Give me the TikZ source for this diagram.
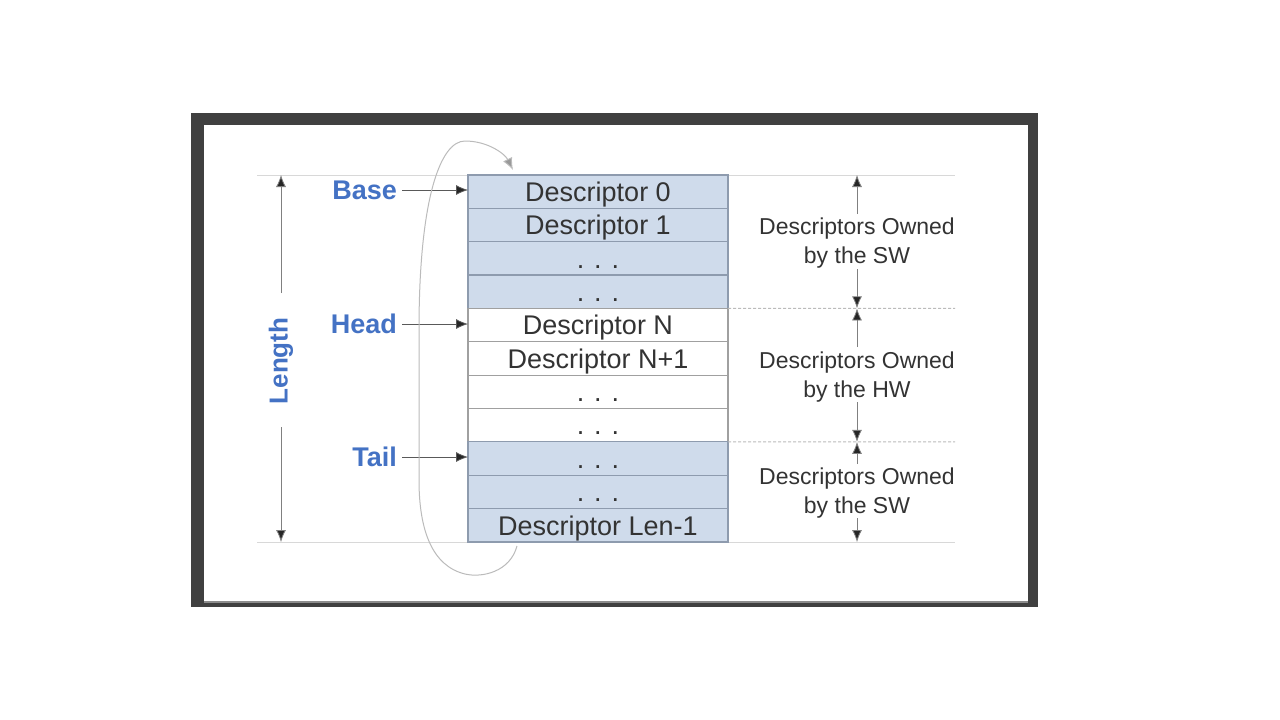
\documentclass[tikz,border=0pt]{standalone}
\usepackage{fontspec}
\setmainfont{Liberation Sans}
\usetikzlibrary{arrows.meta}
\definecolor{framecol}{HTML}{404040}
\definecolor{swfill}{HTML}{CFDBEB}
\definecolor{swdraw}{HTML}{8E9BAE}
\definecolor{hwdraw}{HTML}{A0A0A0}
\definecolor{labblue}{HTML}{4472C4}
\definecolor{txt}{HTML}{333333}
\definecolor{guidecol}{HTML}{D8D8D8}
\definecolor{curvecol}{HTML}{BBBBBB}
\tikzset{
  rowbox/.style={minimum width=260pt, minimum height=33.36pt, inner sep=0pt, outer sep=0pt,
    text height=19.5pt, text depth=0pt, text=txt, font=\fontsize{27}{32}\selectfont, line width=1.2pt},
  swrow/.style={rowbox, fill=swfill, draw=swdraw},
  hwrow/.style={rowbox, fill=white, draw=hwdraw},
  ptrlab/.style={text=labblue, font=\bfseries\fontsize{27}{32}\selectfont, inner sep=0pt, anchor=east},
  ptrarrow/.style={draw=black!65, line width=0.8pt, -{Latex[length=12pt,width=10pt,fill=black!85]}},
  ownlab/.style={text=txt, align=center, font=\fontsize{23}{29}\selectfont, inner sep=0pt},
  ownarrow/.style={draw=black!50, line width=0.8pt, -{Latex[length=12pt,width=10pt,fill=black!85]}},
  guide/.style={draw=guidecol, line width=1pt},
  dguide/.style={draw=curvecol, line width=1pt, dash pattern=on 3pt off 2pt},
  wrapcurve/.style={draw=curvecol, line width=1pt, -{Latex[length=12pt,width=10pt,fill=black!40]}}
}
\begin{document}
\begin{tikzpicture}[x=1pt,y=-1pt]
\useasboundingbox (0,0) rectangle (1280,720);
\fill[white] (0,0) rectangle (1280,720);
% frame
\fill[framecol] (191,113) rectangle (1038,607);
\fill[white] (204,125) rectangle (1028,603);
\draw[black!45, line width=1.5pt] (204,602) -- (1028,602);

% guide lines
\coordinate (gtl) at (257,175);
\coordinate (gtr) at (955,175);
\coordinate (gbl) at (257,542);
\coordinate (gbr) at (955,542);
\draw[guide] (gtl) -- (gtr);
\draw[guide] (gbl) -- (gbr);

% table rows
\node[swrow] (r0) at (598,191.68) {Descriptor 0};
\node[swrow] (r1) at (598,225.04) {Descriptor 1};
\node[swrow] (r2) at (598,258.40) {. . .};
\node[swrow] (r3) at (598,291.76) {. . .};
\node[hwrow] (r4) at (598,325.12) {Descriptor N};
\node[hwrow] (r5) at (598,358.48) {Descriptor N+1};
\node[hwrow] (r6) at (598,391.84) {. . .};
\node[hwrow] (r7) at (598,425.20) {. . .};
\node[swrow] (r8) at (598,458.56) {. . .};
\node[swrow] (r9) at (598,491.92) {. . .};
\node[swrow] (r10) at (598,525.28) {Descriptor Len-1};

% dashed separators
\coordinate (d1r) at (955,308.4);
\coordinate (d2r) at (955,441.9);
\draw[dguide] (r3.south east) -- (d1r);
\draw[dguide] (r7.south east) -- (d2r);

% pointer labels
\node[ptrlab] (base) at (397,190) {Base};
\node[ptrlab] (head) at (397,324) {Head};
\node[ptrlab] (tail) at (397,457) {Tail};
\draw[ptrarrow] ([xshift=5pt]base.east) -- (base.east -| r0.west);
\draw[ptrarrow] ([xshift=5pt]head.east) -- (head.east -| r4.west);
\draw[ptrarrow] ([xshift=5pt]tail.east) -- (tail.east -| r8.west);

% Length
\node[text=labblue, font=\bfseries\fontsize{26}{30}\selectfont, rotate=90, inner sep=0pt] (len) at (281,361) {Length};
\coordinate (lentop) at (281,175);
\coordinate (lenbot) at (281,542);
\coordinate (lena) at (281,293);
\coordinate (lenb) at (281,427);
\draw[ownarrow] (lena) -- (lentop);
\draw[ownarrow] (lenb) -- (lenbot);

% ownership labels
\node[ownlab] (own1) at (857,243) {Descriptors Owned\\by the SW};
\node[ownlab] (own2) at (857,377) {Descriptors Owned\\by the HW};
\node[ownlab] (own3) at (857,493) {Descriptors Owned\\by the SW};
\coordinate (o1s) at (857,214);
\coordinate (o1e) at (857,269);
\coordinate (o2s) at (857,347);
\coordinate (o2e) at (857,402);
\coordinate (o3s) at (857,464);
\coordinate (o3e) at (857,518);
\coordinate (o1t) at (857,175);
\coordinate (o1b) at (857,308.4);
\coordinate (o2t) at (857,308.4);
\coordinate (o2b) at (857,441.9);
\coordinate (o3t) at (857,441.9);
\coordinate (o3b) at (857,542);
\draw[ownarrow] (o1s) -- (o1t);
\draw[ownarrow] (o1e) -- (o1b);
\draw[ownarrow] (o2s) -- (o2t);
\draw[ownarrow] (o2e) -- (o2b);
\draw[ownarrow] (o3s) -- (o3t);
\draw[ownarrow] (o3e) -- (o3b);

% wrap-around curve
\coordinate (cstart) at (517,546);
\coordinate (cend) at (513,170);
\draw[wrapcurve] (cstart) .. controls (510,572) and (482,578) .. (465,574)
  .. controls (432,566) and (419,530) .. (419,480) -- (419,330)
  .. controls (419,200) and (440,141) .. (465,141)
  .. controls (488,141) and (505,154) .. (cend);
\end{tikzpicture}
\end{document}
